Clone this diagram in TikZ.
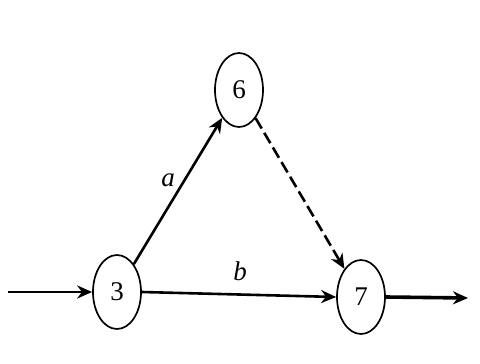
\documentclass[tikz,border=0pt]{standalone}
\usepackage{fontspec}
\setmainfont{Liberation Serif}
\usetikzlibrary{arrows.meta,shapes.geometric}
\begin{document}
\begin{tikzpicture}[x=1pt,y=-1pt,
  event/.style={ellipse,draw,line width=1.7pt,minimum width=48pt,minimum height=74pt,inner sep=0pt,font=\fontsize{27}{32}\selectfont},
  act/.style={line width=2.6pt,-{Stealth[length=15pt,width=13pt]}},
  lbl/.style={font=\fontsize{27}{32}\selectfont\itshape}]
\useasboundingbox (0,0) rectangle (480,364);
\node[event] (n3) at (117,292) {3};
\node[event] (n6) at (239,90) {6};
\node[event] (n7) at (361,297) {7};
\node[lbl] (la) at (168,180) {a};
\node[lbl] (lb) at (240,271) {b};
\coordinate (in) at (8,292);
\coordinate (out) at (468,298);
\draw[act] (in) -- (n3);
\draw[act] (n3) -- (n6);
\draw[act] (n3.east) -- (n7.west);
\draw[act,dash pattern=on 12pt off 5pt] (n6) -- (n7);
\draw[act,line width=3.6pt] (n7.east) -- (out);
\end{tikzpicture}
\end{document}
